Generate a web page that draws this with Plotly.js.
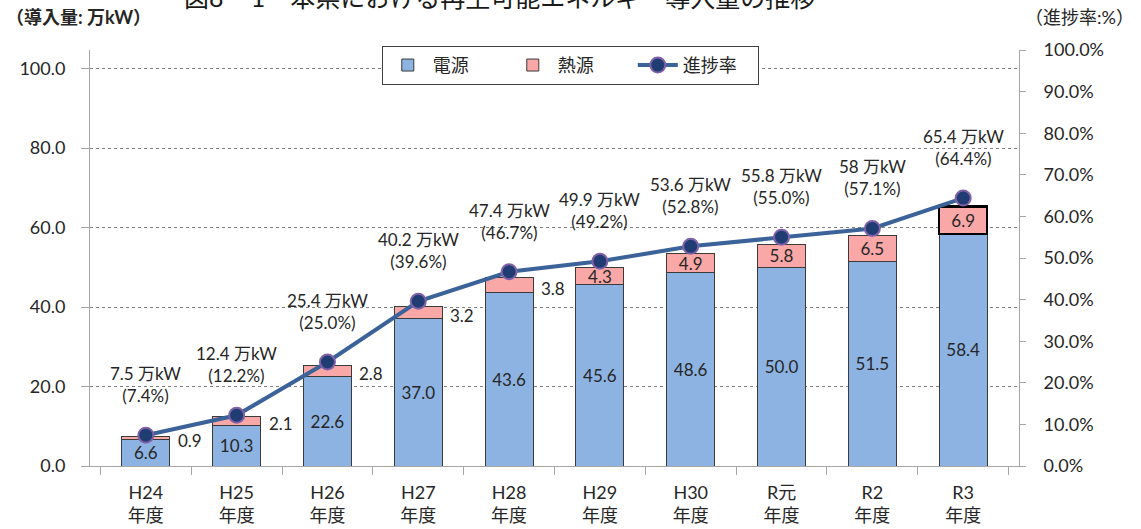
<!DOCTYPE html>
<html>
<head>
<meta charset="utf-8">
<script src="https://cdn.plot.ly/plotly-3.0.1.min.js"></script>
<style>html,body{margin:0;padding:0;background:#fff;}#chart{width:1141px;height:529px;}</style>
</head>
<body>
<div id="chart"></div>
<script>
const categories = ['H24<br>年度','H25<br>年度','H26<br>年度','H27<br>年度','H28<br>年度','H29<br>年度','H30<br>年度','R元<br>年度','R2<br>年度','R3<br>年度'];
const electric = [6.6, 10.3, 22.6, 37.0, 43.6, 45.6, 48.6, 50.0, 51.5, 58.4];
const heat = [0.9, 2.1, 2.8, 3.2, 3.8, 4.3, 4.9, 5.8, 6.5, 6.9];
const totalLabels = ['7.5','12.4','25.4','40.2','47.4','49.9','53.6','55.8','58','65.4'];
const progressRate = [7.4, 12.2, 25.0, 39.6, 46.7, 49.2, 52.8, 55.0, 57.1, 64.4];
const titleText = '図8 − 1　本県における再生可能エネルギー導入量の推移';

const FONT = 'Lato, "Noto Sans CJK JP", sans-serif';
const TXT = '#262626';
const last = categories.length - 1;

const traces = [
  {
    type: 'bar', name: '電源', x: categories, y: electric,
    text: electric.map(v => v.toFixed(1)),
    textposition: 'inside', insidetextanchor: 'middle', textangle: 0,
    constraintext: 'none',
    insidetextfont: {family: FONT, size: 17, color: TXT},
    marker: {color: '#8DB3E2', line: {color: '#3a3a3a', width: 1}},
    hoverinfo: 'skip'
  },
  {
    type: 'bar', name: '熱源', x: categories, y: heat,
    text: heat.map(v => v >= 4 ? v.toFixed(1) : ''),
    textposition: 'inside', insidetextanchor: 'middle', textangle: 0,
    constraintext: 'none',
    insidetextfont: {family: FONT, size: 17, color: TXT},
    marker: {color: '#F9A7A7', line: {
      color: heat.map((v, i) => i === last ? '#000000' : '#3a3a3a'),
      width: heat.map((v, i) => i === last ? 2.5 : 1)}},
    hoverinfo: 'skip'
  },
  {
    type: 'scatter', mode: 'lines+markers', name: '進捗率', x: categories,
    y: progressRate.map(v => v / 100), yaxis: 'y2',
    line: {color: '#3B6399', width: 4},
    marker: {size: 15, color: '#1F3D73', line: {color: '#8061A8', width: 2}},
    cliponaxis: false, hoverinfo: 'skip'
  }
];

const annotations = [];
categories.forEach((c, i) => {
  annotations.push({
    x: c, y: progressRate[i] / 100, xref: 'x', yref: 'y2',
    text: totalLabels[i] + ' 万kW<br>(' + progressRate[i].toFixed(1) + '%)',
    showarrow: false, yanchor: 'bottom', yshift: 27,
    font: {family: FONT, size: 17, color: TXT}
  });
  if (heat[i] < 4) {
    annotations.push({
      x: c, y: electric[i] + heat[i] / 2, xref: 'x', yref: 'y',
      text: heat[i].toFixed(1), showarrow: false, xshift: 44, yshift: -3,
      font: {family: FONT, size: 17, color: TXT}
    });
  }
});
annotations.push({
  xref: 'paper', yref: 'paper', x: 0.5, y: 1, xanchor: 'center', yanchor: 'middle',
  yshift: 53, xshift: -55, text: titleText, showarrow: false,
  font: {family: FONT, size: 25, color: '#1a1a1a'}
});
annotations.push({
  xref: 'paper', yref: 'paper', x: -0.093, y: 1.079, xanchor: 'left', yanchor: 'middle',
  text: '<b>（導入量: 万kW）</b>', showarrow: false,
  font: {family: FONT, size: 18, color: TXT}
});
annotations.push({
  xref: 'paper', yref: 'paper', x: 1.004, y: 1.079, xanchor: 'left', yanchor: 'middle',
  text: '（進捗率:%）', showarrow: false,
  font: {family: FONT, size: 18, color: TXT}
});

const layout = {
  width: 1141, height: 529,
  margin: {l: 90, r: 122, t: 50, b: 63},
  paper_bgcolor: '#ffffff', plot_bgcolor: '#ffffff',
  barmode: 'stack', bargap: 0.47,
  font: {family: FONT, color: TXT},
  showlegend: true,
  legend: {
    orientation: 'h', x: 0.517, xanchor: 'center', y: 1.01, yanchor: 'top',
    bgcolor: '#ffffff', bordercolor: '#404040', borderwidth: 1,
    font: {family: FONT, size: 18, color: TXT}, traceorder: 'normal',
    itemwidth: 40, entrywidth: 70, entrywidthmode: 'pixels'
  },
  xaxis: {
    type: 'category', showline: true, linecolor: '#a6a6a6', linewidth: 1,
    ticks: 'outside', tickson: 'boundaries', ticklen: 8, tickcolor: '#a6a6a6',
    showgrid: false, tickfont: {family: FONT, size: 18, color: TXT},
    ticklabelstandoff: 10, fixedrange: true
  },
  yaxis: {
    range: [0, 104.7], tickvals: [0, 20, 40, 60, 80, 100], tickformat: '.1f',
    showline: true, linecolor: '#a6a6a6', ticks: 'outside', ticklen: 8, tickcolor: '#a6a6a6',
    showgrid: true, gridcolor: '#7f7f7f', griddash: 'dot', gridwidth: 1,
    zeroline: false, tickfont: {family: FONT, size: 18, color: TXT},
    ticklabelstandoff: 12, fixedrange: true
  },
  yaxis2: {
    overlaying: 'y', side: 'right', range: [0, 1.0], dtick: 0.1, tickformat: '.1%',
    showline: true, linecolor: '#a6a6a6', ticks: 'outside', ticklen: 6, tickcolor: '#a6a6a6',
    showgrid: false, zeroline: false, tickfont: {family: FONT, size: 18, color: TXT},
    ticklabelstandoff: 14, fixedrange: true
  },
  annotations: annotations
};

Plotly.newPlot('chart', traces, layout, {displayModeBar: false, staticPlot: true});
</script>
</body>
</html>
